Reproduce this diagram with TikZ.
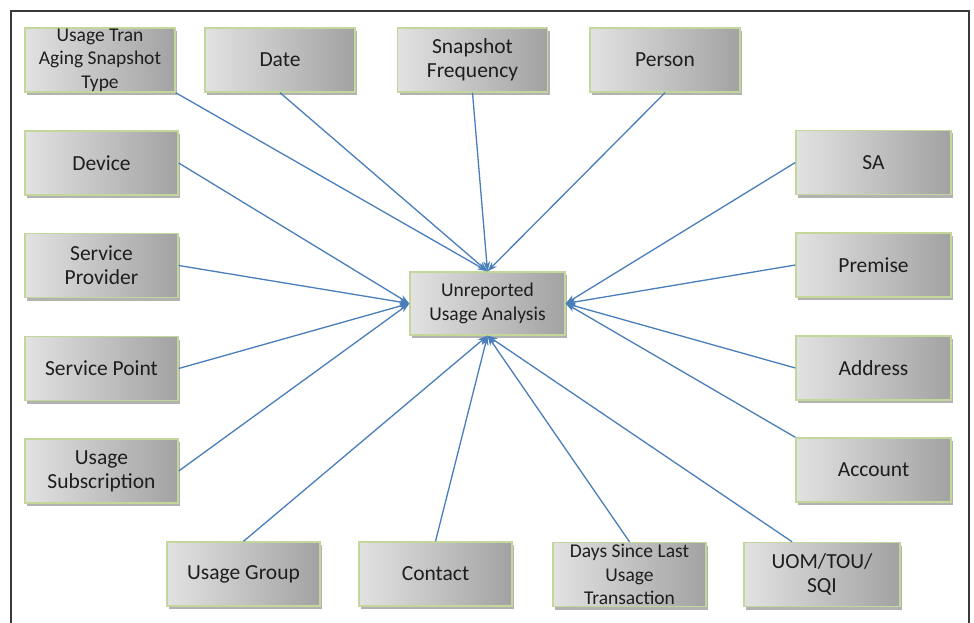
\documentclass[tikz,border=0pt]{standalone}
\usepackage{fontspec}
\setmainfont{Carlito}
\usetikzlibrary{arrows.meta,shadows,calc}
\definecolor{edgeblue}{HTML}{4A7EBB}
\definecolor{boxborder}{HTML}{C3D69B}
\definecolor{txtcol}{HTML}{1E1E1E}
\definecolor{framecol}{HTML}{3A3A3A}
\definecolor{shadelight}{HTML}{E2E2E2}
\definecolor{shadedark}{HTML}{A2A2A2}
\begin{document}
\begin{tikzpicture}[x=1pt,y=-1pt,
  ent/.style={draw=boxborder, line width=1.4pt, left color=shadelight, right color=shadedark,
    minimum width=153pt, minimum height=64pt, inner sep=0pt, align=center, text=txtcol,
    font=\fontsize{21.5}{24}\selectfont,
    drop shadow={shadow xshift=2pt, shadow yshift=-3pt, opacity=0.3, fill=black}},
  smalltext/.style={font=\fontsize{19.5}{23.5}\selectfont},
  toprow/.style={ent, minimum width=150pt},
  link/.style={draw=edgeblue, line width=1.3pt, -{Stealth[length=10pt,width=7pt]}}]
\useasboundingbox (0,0) rectangle (974,623);
\draw[framecol, line width=1.5pt] (11,623) -- (11,11) -- (969,11) -- (969,623);

% top row
\node[toprow, smalltext] (ut) at (100,60) {Usage Tran\\Aging Snapshot\\Type};
\node[toprow] (date) at (280,60) {Date};
\node[toprow] (snap) at (472.5,60) {Snapshot\\Frequency};
\node[toprow] (person) at (665,60) {Person};
% left column
\node[ent] (device) at (101.5,163) {Device};
\node[ent] (sprov) at (101.5,265.5) {Service\\Provider};
\node[ent] (spoint) at (101.5,368.5) {Service Point};
\node[ent] (usub) at (101.5,471) {Usage\\Subscription};
% bottom row
\node[ent] (ugroup) at (243.5,574) {Usage Group};
\node[ent] (contact) at (435.5,574) {Contact};
\node[ent, smalltext] (days) at (629.5,574.5) {Days Since Last\\Usage\\Transaction};
\node[ent, minimum width=156pt] (uom) at (822,574.5) {UOM/TOU/\\SQI};
% right column
\node[ent, minimum width=155pt] (sa) at (873.5,162.5) {SA};
\node[ent, minimum width=155pt] (premise) at (873.5,265) {Premise};
\node[ent, minimum width=155pt] (address) at (873.5,368) {Address};
\node[ent, minimum width=155pt] (account) at (873.5,470) {Account};
% centre
\node[ent, smalltext, minimum width=155pt, minimum height=63pt] (c) at (487.5,303.5) {Unreported\\Usage Analysis};

\coordinate (uomtop) at ($(uom.north west)!0.31!(uom.north east)$);

\draw[link] (ut.south east) -- (c.north);
\draw[link] (date.south) -- (c.north);
\draw[link] (snap.south) -- (c.north);
\draw[link] (person.south) -- (c.north);
\draw[link] (device.east) -- (c.west);
\draw[link] (sprov.east) -- (c.west);
\draw[link] (spoint.east) -- (c.west);
\draw[link] (usub.east) -- (c.west);
\draw[link] (ugroup.north) -- (c.south);
\draw[link] (contact.north) -- (c.south);
\draw[link] (days.north) -- (c.south);
\draw[link] (uomtop) -- (c.south);
\draw[link] (sa.west) -- (c.east);
\draw[link] (premise.west) -- (c.east);
\draw[link] (address.west) -- (c.east);
\draw[link] (account.north west) -- (c.east);
\end{tikzpicture}
\end{document}
